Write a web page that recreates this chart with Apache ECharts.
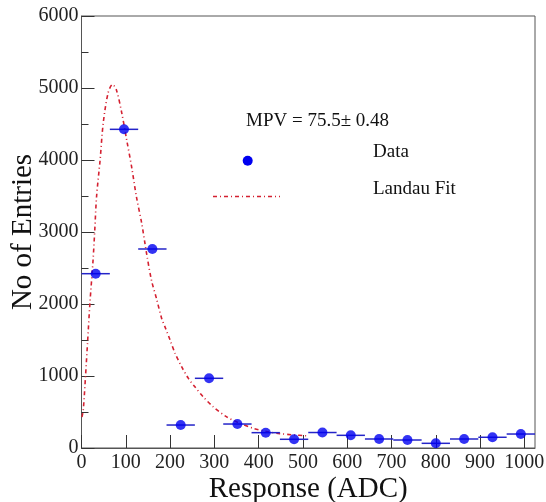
<!DOCTYPE html>
<html>
<head>
<meta charset="utf-8">
<script src="https://cdn.jsdelivr.net/npm/echarts@6/dist/echarts.min.js"></script>
<style>
  html, body { margin: 0; padding: 0; background: #fff; }
  #chart { width: 546px; height: 502px; }
</style>
</head>
<body>
<div id="chart"></div>
<script>
// bin centres (ADC) and counts of the histogram
const binCenters = [32, 96, 160, 224, 288, 352, 416, 480, 544, 608, 672, 736, 800, 864, 928, 992]
const entries = [2421, 4426, 2764, 319, 968, 333, 213, 121, 215, 176, 125, 111, 65, 125, 149, 194]
const binHalfWidth = [32, 32, 32, 32, 32, 32, 32, 32, 32, 32, 32, 32, 32, 32, 32, 32]

// landau fit curve
const fitX = [1, 4, 9, 14, 19, 26, 30, 34, 42, 49, 60, 70, 79, 91, 102, 113, 124, 136, 147, 158, 170, 181, 190, 200, 211, 226, 241, 256, 275, 297, 327, 357, 387, 418, 448, 478, 508]
const fitY = [430, 530, 990, 1500, 2010, 2600, 3030, 3490, 4000, 4510, 4930, 5050, 4970, 4650, 4280, 3910, 3490, 3120, 2700, 2330, 2060, 1800, 1660, 1500, 1320, 1130, 970, 850, 710, 575, 435, 345, 275, 228, 200, 182, 170]

const xTicks = [0, 100, 200, 300, 400, 500, 600, 700, 800, 900, 1000]
const yTicks = [0, 1000, 2000, 3000, 4000, 5000, 6000]

const fontFam = "Liberation Serif"
const red = "#d42030"
const blue = "#0000f0"

const myChart = echarts.init(document.getElementById("chart"), null, { renderer: "canvas" })

const option = {
  animation: false,
  backgroundColor: "#fff",
  grid: {
    left: 81.5,
    right: 11,
    top: 16,
    bottom: 54,
    outerBoundsMode: "none",
    containLabel: false,
    show: true,
    borderColor: "#555",
    borderWidth: 1
  },
  xAxis: {
    type: "value",
    min: 0,
    max: 1024,
    interval: 100,
    name: "Response (ADC)",
    nameLocation: "middle",
    nameMoveOverlap: false,
    nameGap: 27,
    nameTextStyle: { fontFamily: fontFam, fontSize: 29, color: "#111", verticalAlign: "top" },
    axisLine: { show: true, lineStyle: { color: "#555", width: 1 } },
    axisTick: { show: true, inside: true, length: 13, lineStyle: { color: "#333" } },
    splitLine: { show: false },
    axisLabel: {
      showMaxLabel: false,
      margin: 5,
      fontFamily: fontFam,
      fontSize: 20,
      color: "#222",
      formatter: v => (xTicks.includes(v) ? String(v) : "")
    }
  },
  yAxis: {
    type: "value",
    min: 0,
    max: 6000,
    interval: 1000,
    name: "No of Entries",
    nameLocation: "middle",
    nameMoveOverlap: false,
    nameGap: 58,
    nameTextStyle: { fontFamily: fontFam, fontSize: 29, color: "#111", verticalAlign: "middle" },
    axisLine: { show: true, lineStyle: { color: "#555", width: 1 } },
    axisTick: { show: true, inside: true, length: 13, lineStyle: { color: "#333" } },
    minorTick: { show: true, splitNumber: 2, length: 7, lineStyle: { color: "#333" } },
    splitLine: { show: false },
    axisLabel: {
      margin: 3,
      fontFamily: fontFam,
      fontSize: 20,
      color: "#222",
      formatter: v => (yTicks.includes(v) ? String(v) : "")
    }
  },
  series: [
    {
      name: "Landau Fit",
      type: "line",
      smooth: 0.3,
      symbol: "none",
      z: 2,
      lineStyle: { color: red, width: 1.6, type: [4, 3, 1, 3] },
      data: fitX.map((x, i) => [x, fitY[i]])
    },
    {
      name: "errors",
      type: "custom",
      z: 3,
      renderItem: function (params, api) {
        const x = api.value(0)
        const y = api.value(1)
        const w = api.value(2)
        const p1 = api.coord([x - w, y])
        const p2 = api.coord([x + w, y])
        return {
          type: "line",
          shape: { x1: p1[0], y1: p1[1], x2: p2[0], y2: p2[1] },
          style: { stroke: "#2424c8", lineWidth: 1.5 }
        }
      },
      data: binCenters.map((x, i) => [x, entries[i], binHalfWidth[i]])
    },
    {
      name: "Data",
      type: "scatter",
      symbol: "circle",
      symbolSize: 10,
      z: 4,
      itemStyle: { color: blue },
      data: binCenters.map((x, i) => [x, entries[i]])
    }
  ],
  graphic: [
    {
      type: "text",
      left: 246,
      top: 112,
      style: { text: "MPV = 75.5\u00b1 0.48", font: "19px 'Liberation Serif'", fill: "#111" }
    },
    {
      type: "circle",
      shape: { cx: 247.7, cy: 160.7, r: 5 },
      style: { fill: blue }
    },
    {
      type: "text",
      left: 373,
      top: 143,
      style: { text: "Data", font: "19px 'Liberation Serif'", fill: "#111" }
    },
    {
      type: "line",
      shape: { x1: 213, y1: 196.5, x2: 280, y2: 196.5 },
      style: { stroke: red, lineWidth: 1.6, lineDash: [4, 3, 1, 3] }
    },
    {
      type: "text",
      left: 373,
      top: 180,
      style: { text: "Landau Fit", font: "19px 'Liberation Serif'", fill: "#111" }
    }
  ]
}

myChart.setOption(option)
</script>
</body>
</html>
